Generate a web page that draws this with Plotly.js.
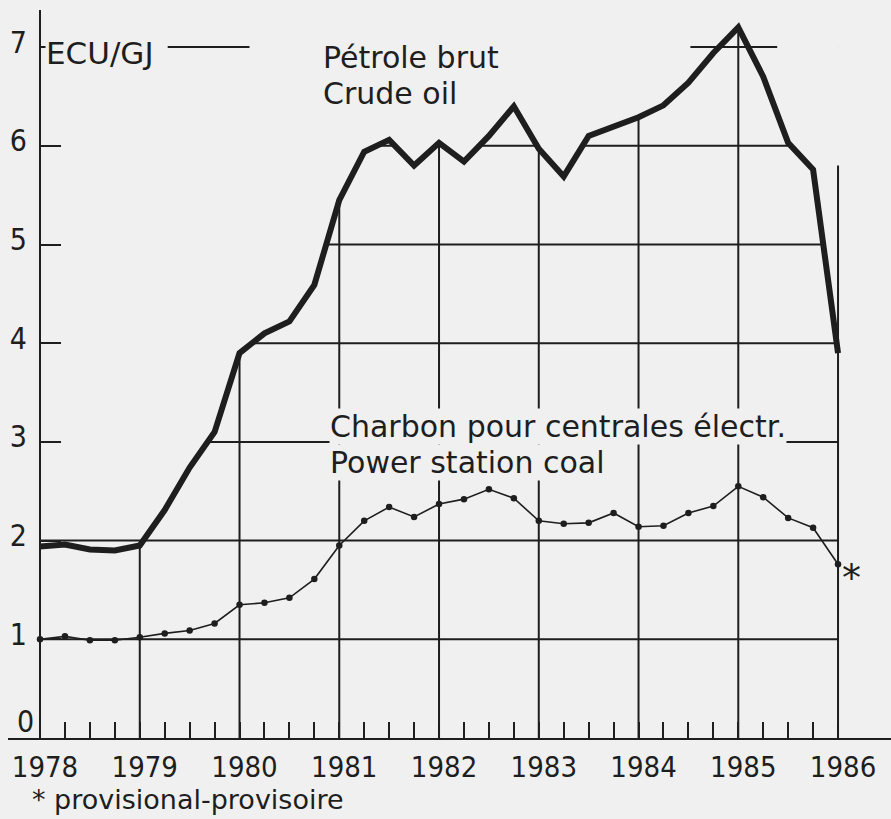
<!DOCTYPE html>
<html>
<head>
<meta charset="utf-8">
<script src="https://cdn.plot.ly/plotly-3.0.1.min.js"></script>
<style>html,body{margin:0;padding:0;background:#f0f0f0;}#chart{width:891px;height:819px;}</style>
</head>
<body>
<div id="chart"></div>
<script>
// Quarterly time positions (years)
const quarters = [1978, 1978.25, 1978.5, 1978.75, 1979, 1979.25, 1979.5, 1979.75,
  1980, 1980.25, 1980.5, 1980.75, 1981, 1981.25, 1981.5, 1981.75,
  1982, 1982.25, 1982.5, 1982.75, 1983, 1983.25, 1983.5, 1983.75,
  1984, 1984.25, 1984.5, 1984.75, 1985, 1985.25, 1985.5, 1985.75, 1986];
// Crude oil, ECU/GJ
const crudeOil = [1.94, 1.96, 1.91, 1.90, 1.95, 2.31, 2.74, 3.10,
  3.90, 4.10, 4.22, 4.59, 5.45, 5.94, 6.06, 5.80,
  6.03, 5.84, 6.10, 6.40, 5.97, 5.69, 6.10, 6.20,
  6.29, 6.41, 6.64, 6.94, 7.20, 6.70, 6.03, 5.76, 3.90];
// Power station coal, ECU/GJ
const coal = [1.00, 1.03, 0.99, 0.99, 1.02, 1.06, 1.09, 1.16,
  1.35, 1.37, 1.42, 1.61, 1.95, 2.20, 2.34, 2.24,
  2.37, 2.42, 2.52, 2.43, 2.20, 2.17, 2.18, 2.28,
  2.14, 2.15, 2.28, 2.35, 2.55, 2.44, 2.23, 2.13, 1.76];
const years = [1978, 1979, 1980, 1981, 1982, 1983, 1984, 1985, 1986];
const yearLabels = ['1978', '1979', '1980', '1981', '1982', '1983', '1984', '1985', '1986'];
const yTickVals = [1, 2, 3, 4, 5, 6, 7];
const yTickText = ['1', '2', '3', '4', '5', '6', '7'];

const BG = '#f0f0f0';
const INK = '#1e1e1e';
const YTOP = 7.376;
const X0 = 1977.679, X1 = 1986.531;
const first = quarters[0], last = quarters[quarters.length - 1];
const narrow = 'DejaVu Sans Condensed, sans-serif';
const dejavu = 'DejaVu Sans, sans-serif';

const traces = [
  { // mask above the crude-oil curve (hides grid lines there)
    x: quarters.concat([last, first]),
    y: crudeOil.concat([YTOP, YTOP]),
    mode: 'lines', fill: 'toself', fillcolor: BG,
    line: {width: 0, color: BG}, hoverinfo: 'skip'
  },
  {
    x: quarters, y: coal, mode: 'lines+markers', name: 'Power station coal',
    line: {color: INK, width: 1.6}, marker: {color: INK, size: 6.5}
  },
  {
    x: quarters, y: crudeOil, mode: 'lines', name: 'Crude oil',
    line: {color: INK, width: 6}
  }
];

const shapes = [];
years.slice(1, -1).forEach(yr => shapes.push({
  type: 'line', xref: 'x', yref: 'y', x0: yr, x1: yr, y0: 0, y1: YTOP,
  layer: 'below', line: {color: INK, width: 2}
}));
shapes.push({type: 'line', xref: 'x', yref: 'y', x0: last, x1: last, y0: 0, y1: 5.8,
  layer: 'above', line: {color: INK, width: 2}});
yTickVals.forEach(v => shapes.push({
  type: 'line', xref: 'x', yref: 'y', x0: first, x1: last, y0: v, y1: v,
  layer: v === 2 ? 'above' : 'below', line: {color: INK, width: 2}
}));
shapes.push({type: 'line', xref: 'x', yref: 'y', x0: 1979.28, x1: 1980.1, y0: 7, y1: 7,
  layer: 'above', line: {color: INK, width: 2}});
shapes.push({type: 'line', xref: 'x', yref: 'y', x0: 1984.52, x1: 1985.39, y0: 7, y1: 7,
  layer: 'above', line: {color: INK, width: 2}});

const annotations = [
  {text: 'ECU/GJ', x: 1978.05, y: 6.94, xanchor: 'left', yanchor: 'middle', font: {family: dejavu, size: 31, color: INK}, bgcolor: BG},
  {text: 'Pétrole brut', x: 1980.83, y: 6.89, xanchor: 'left', yanchor: 'middle', font: {family: dejavu, size: 30, color: INK}},
  {text: 'Crude oil', x: 1980.83, y: 6.53, xanchor: 'left', yanchor: 'middle', font: {family: dejavu, size: 30, color: INK}},
  {text: 'Charbon pour centrales électr.', x: 1980.90, y: 3.16, xanchor: 'left', yanchor: 'middle', font: {family: dejavu, size: 30, color: INK}, bgcolor: BG},
  {text: 'Power station coal', x: 1980.90, y: 2.79, xanchor: 'left', yanchor: 'middle', font: {family: dejavu, size: 30, color: INK}, bgcolor: BG},
  {text: '0', x: 1977.85, y: 0.17, xanchor: 'center', yanchor: 'middle', font: {family: narrow, size: 30, color: INK}},
  {text: '*', x: 1986.13, y: 1.62, xanchor: 'center', yanchor: 'middle', font: {family: dejavu, size: 38, color: INK}}
].map(a => Object.assign({xref: 'x', yref: 'y', showarrow: false, borderpad: 0}, a));
annotations.push({text: '* provisional-provisoire', xref: 'paper', yref: 'paper',
  x: 22 / 883, y: -62 / 728, xanchor: 'left', yanchor: 'middle', showarrow: false,
  font: {family: dejavu, size: 27, color: INK}});

const layout = {
  width: 891, height: 819,
  margin: {l: 8, r: 0, t: 10, b: 81},
  paper_bgcolor: BG, plot_bgcolor: BG,
  showlegend: false,
  xaxis: {
    range: [X0, X1], showgrid: false, zeroline: false,
    showline: true, linecolor: INK, linewidth: 2,
    tickmode: 'array', tickvals: years, ticktext: yearLabels, ticks: '',
    tickfont: {family: narrow, size: 29, color: INK},
    ticklabelshift: 5, ticklabelstandoff: 2,
    minor: {tickmode: 'array', tickvals: quarters, ticks: 'inside', ticklen: 16, tickwidth: 2, tickcolor: INK, showgrid: false}
  },
  yaxis: {
    range: [0, YTOP], anchor: 'free', position: 32 / 883,
    showgrid: false, zeroline: false,
    showline: true, linecolor: INK, linewidth: 2,
    tickmode: 'array', tickvals: yTickVals, ticktext: yTickText,
    ticks: 'inside', ticklen: 20, tickwidth: 2, tickcolor: INK,
    tickfont: {family: narrow, size: 30, color: INK},
    ticklabelshift: -5, ticklabelstandoff: 6
  },
  shapes: shapes,
  annotations: annotations
};

Plotly.newPlot('chart', traces, layout, {displayModeBar: false, staticPlot: true});
</script>
</body>
</html>
